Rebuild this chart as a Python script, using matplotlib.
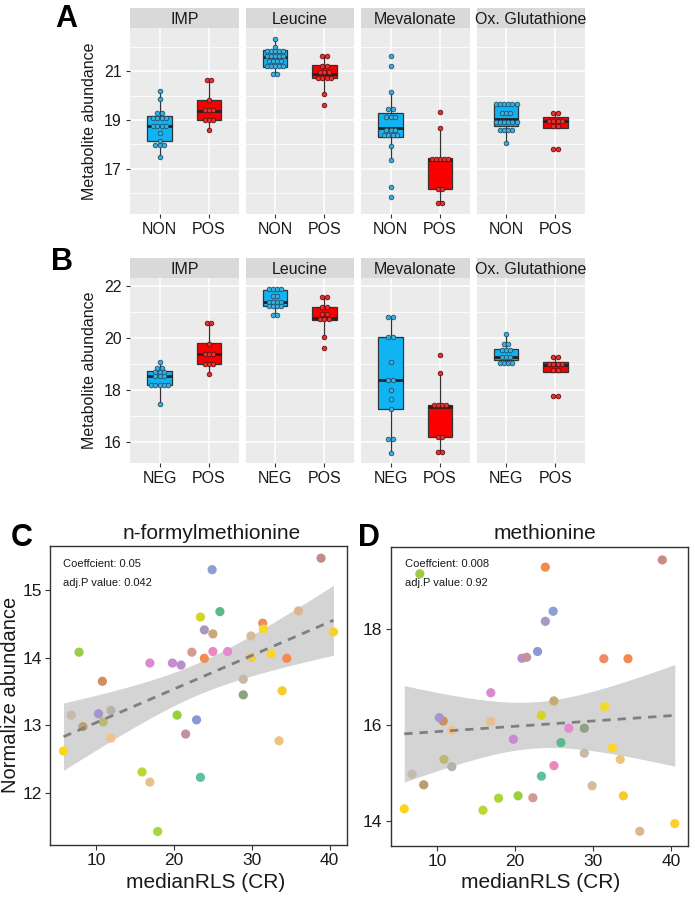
import numpy as np
import matplotlib
matplotlib.use("Agg")
import matplotlib.pyplot as plt

plt.rcParams['font.family'] = ['Liberation Sans', 'DejaVu Sans']

W, H = 695, 900

# ---------------- data: panels A and B ----------------
facets = ["IMP", "Leucine", "Mevalonate", "Ox. Glutathione"]
groups_A = ["NON", "POS"]
groups_B = ["NEG", "POS"]

# box stats per facet: (whislo, q1, med, q3, whishi)
boxA_first = [(17.48, 18.16, 18.77, 19.15, 20.18), (20.90, 21.18, 21.58, 21.86, 22.31),
              (17.37, 18.32, 18.69, 19.27, 20.16), (18.08, 18.77, 19.03, 19.65, 19.65)]
boxA_pos = [(18.59, 19.00, 19.37, 19.82, 20.62), (20.06, 20.70, 20.88, 21.24, 21.62),
            (15.62, 16.17, 17.37, 17.44, 18.66), (18.69, 18.69, 18.97, 19.14, 19.27)]
boxB_first = [(17.45, 18.17, 18.54, 18.73, 19.06), (20.88, 21.23, 21.40, 21.85, 21.90),
              (15.56, 17.27, 18.38, 20.05, 20.82), (19.03, 19.15, 19.26, 19.58, 20.14)]
boxB_pos = [(18.60, 18.99, 19.37, 19.80, 20.59), (20.05, 20.69, 20.78, 21.20, 21.59),
            (15.60, 16.17, 17.33, 17.42, 18.64), (18.68, 18.68, 18.96, 19.09, 19.26)]

dotsA_first = [
    [20.18, 19.86, 19.30, 19.30, 19.07, 19.07, 19.07, 19.07, 18.77, 18.77, 18.77, 18.77,
     18.46, 18.16, 17.98, 17.98, 17.98, 17.48],
    [22.31, 21.99, 21.82, 21.82, 21.82, 21.82, 21.82, 21.60, 21.60, 21.60, 21.60, 21.60,
     21.40, 21.40, 21.40, 21.40, 21.20, 21.20, 21.20, 21.20, 21.20, 20.90, 20.90],
    [21.62, 21.22, 20.16, 19.45, 19.45, 19.11, 19.11, 19.11, 18.59, 18.59, 18.59,
     18.39, 18.39, 18.39, 18.39, 17.95, 17.37, 16.28, 15.87],
    [19.65, 19.65, 19.65, 19.65, 19.65, 19.65, 19.27, 19.27, 19.27, 18.93, 18.93, 18.93,
     18.93, 18.93, 18.93, 18.59, 18.59, 18.59, 18.59, 18.08],
]
dotsA_pos = [
    [20.62, 20.62, 19.80, 19.42, 19.42, 19.42, 19.00, 19.00, 19.00, 18.59],
    [21.62, 21.62, 21.22, 21.22, 20.95, 20.95, 20.95, 20.72, 20.72, 20.72, 20.72, 20.06, 19.61],
    [19.34, 18.66, 17.42, 17.42, 17.42, 17.42, 17.42, 16.17, 16.17, 15.62, 15.62],
    [19.27, 19.27, 18.97, 18.97, 18.97, 18.97, 18.75, 18.75, 17.80, 17.80],
]
dotsB_first = [
    [19.06, 18.86, 18.86, 18.70, 18.70, 18.70, 18.54, 18.54, 18.54, 18.17, 18.17, 18.17,
     18.17, 18.17, 17.45],
    [21.88, 21.88, 21.88, 21.88, 21.62, 21.62, 21.40, 21.40, 21.40, 21.40, 21.23, 21.23,
     21.23, 21.23, 20.88, 20.88],
    [20.82, 20.82, 20.05, 20.05, 19.09, 18.38, 18.38, 18.00, 17.64, 17.27, 16.10, 16.10, 15.56],
    [20.14, 19.76, 19.76, 19.55, 19.55, 19.55, 19.26, 19.26, 19.26, 19.05, 19.05, 19.05, 19.05],
]
dotsB_pos = [
    [20.59, 20.59, 19.76, 19.40, 19.40, 19.40, 18.99, 18.99, 18.99, 18.60],
    [21.59, 21.59, 21.20, 21.20, 20.92, 20.92, 20.72, 20.72, 20.72, 20.05, 19.60],
    [19.35, 18.64, 17.42, 17.42, 17.42, 17.42, 16.17, 16.17, 15.60, 15.60],
    [19.26, 19.26, 19.00, 19.00, 19.00, 19.00, 18.75, 18.75, 17.77, 17.77],
]

# ---------------- data: panels C and D ----------------
strain_x = [38.9, 24.9, 25.9, 23.4, 36.0, 23.9, 25.0, 31.4, 31.5, 40.5, 29.9, 7.8, 22.3, 25.0,
            26.9, 23.9, 29.9, 32.5, 34.5, 16.9, 19.8, 20.9, 10.8, 28.9, 33.9, 28.9, 6.8, 10.3,
            11.9, 10.9, 8.3, 11.9, 5.8, 20.4, 22.9, 21.5, 33.5, 15.9, 16.9, 23.4, 17.9]
fmet_y = [15.47, 15.30, 14.68, 14.60, 14.69, 14.41, 14.35, 14.51, 14.42, 14.38, 14.32, 14.08,
          14.08, 14.09, 14.09, 13.99, 14.00, 14.06, 13.99, 13.92, 13.92, 13.89, 13.65, 13.68,
          13.51, 13.45, 13.15, 13.17, 13.22, 13.05, 12.98, 12.81, 12.62, 13.15, 13.08, 12.87,
          12.77, 12.31, 12.16, 12.23, 11.43]
met_y = [19.44, 18.37, 15.63, 16.20, 13.78, 18.16, 16.50, 17.38, 16.38, 13.94, 14.73, 19.15,
         14.48, 15.15, 15.93, 19.29, np.nan, 15.52, 17.38, 16.67, 15.70, 17.39, 16.08, 15.41,
         14.52, 15.93, 14.97, 16.15, 15.13, 15.28, 14.75, 15.89, 14.25, 14.52, 17.53, 17.41,
         15.28, 14.22, 16.07, 14.93, 14.47]
strain_colors = ["#C98B87", "#8C9FD6", "#5DB88E", "#D4D424", "#D9B88F", "#A898C0", "#C9A877",
                 "#EF8C63", "#F2DA2A", "#FCCF30", "#D6BC98", "#9CCB45", "#D49A94", "#E889C0",
                 "#E48BCD", "#F08C4E", "#F5C94A", "#FAD52A", "#F38A52", "#D98AD0", "#C98AD4",
                 "#B98FD0", "#D28E5A", "#C7B9A6", "#F8CB2E", "#8FA27E", "#C4BAAE", "#A394D2",
                 "#B6B2AC", "#BABA72", "#B8A06E", "#F2C28A", "#F9D61E", "#99CF3F", "#8C98D2",
                 "#C3929A", "#EFC27E", "#BCD634", "#E8C08F", "#5CC1A4", "#A9D63A"]
coef_text_C = ["Coeffcient: 0.05", "adj.P value: 0.042"]
coef_text_D = ["Coeffcient: 0.008", "adj.P value: 0.92"]

# ---------------- drawing ----------------
fig = plt.figure(figsize=(W / 100, H / 100), dpi=100)
fig.patch.set_facecolor("white")


def px_axes(x0, y0, x1, y1):
    return fig.add_axes([x0 / W, 1 - y1 / H, (x1 - x0) / W, (y1 - y0) / H])


def dot_offsets(vals, spacing):
    vals = np.asarray(vals)
    xs = np.zeros(len(vals))
    for v in np.unique(vals):
        idx = np.where(vals == v)[0]
        n = len(idx)
        xs[idx] = (np.arange(n) - (n - 1) / 2) * spacing
    return xs


BLUE, RED = "#10B4F2", "#FA0000"
BLUE_DOT, RED_DOT = ("#3AAEDC", "#1E5470"), ("#E23232", "#6A1010")
facet_left = [130, 245.5, 361, 476.5]
facet_w = 108.5


def box_panel(top, bottom, ylim, major, minor, groups, box_first, box_pos, dots_first, dots_pos):
    for i, name in enumerate(facets):
        x0 = facet_left[i]
        x1 = x0 + facet_w
        sax = px_axes(x0, top - 20, x1, top)
        sax.set_facecolor("#D9D9D9")
        sax.set_xticks([]); sax.set_yticks([])
        for s in sax.spines.values():
            s.set_visible(False)
        sax.text(0.5, 0.45, name, ha="center", va="center", fontsize=11.5, color="#1A1A1A",
                 transform=sax.transAxes)
        ax = px_axes(x0, top, x1, bottom)
        ax.set_facecolor("#EBEBEB")
        for s in ax.spines.values():
            s.set_visible(False)
        for pos, st, dots, fc, dcol in [(1, box_first[i], dots_first[i], BLUE, BLUE_DOT),
                                        (2, box_pos[i], dots_pos[i], RED, RED_DOT)]:
            wl, q1, med, q3, wh = st
            ax.bxp([dict(whislo=wl, q1=q1, med=med, q3=q3, whishi=wh, fliers=[])],
                   positions=[pos], widths=0.5, patch_artist=True, showcaps=False,
                   showfliers=False, manage_ticks=False,
                   boxprops=dict(facecolor=fc, edgecolor="#333333", lw=0.9),
                   medianprops=dict(color="#222222", lw=2.0),
                   whiskerprops=dict(color="#333333", lw=0.9))
            offs = dot_offsets(dots, 0.085)
            ax.scatter(pos + offs, dots, s=11, facecolor=dcol[0], edgecolor=dcol[1],
                       lw=0.6, zorder=4)
        ax.set_xlim(0.4, 2.6)
        ax.set_ylim(*ylim)
        ax.set_yticks(major)
        ax.set_yticks(minor, minor=True)
        ax.set_xticks([1, 2])
        ax.set_xticklabels(groups, fontsize=11.5, color="#1A1A1A")
        ax.grid(which="major", color="white", lw=1.1)
        ax.grid(which="minor", axis="y", color="white", lw=0.55)
        ax.set_axisbelow(True)
        ax.tick_params(which="major", length=3, width=0.8, color="#333333", pad=3)
        ax.tick_params(which="minor", length=0)
        if i == 0:
            ax.set_yticklabels([str(v) for v in major], fontsize=11.5, color="#1A1A1A")
        else:
            ax.tick_params(axis="y", which="both", length=0, labelleft=False)


box_panel(28, 214, (15.16, 22.76), [17, 19, 21], [16, 18, 20, 22], groups_A,
          boxA_first, boxA_pos, dotsA_first, dotsA_pos)
box_panel(278, 463, (15.18, 22.31), [16, 18, 20, 22], [17, 19, 21], groups_B,
          boxB_first, boxB_pos, dotsB_first, dotsB_pos)

fig.text(90 / W, 1 - 121 / H, "Metabolite abundance", rotation=90, ha="center", va="center",
         fontsize=11.5, color="#1A1A1A")
fig.text(90 / W, 1 - 370 / H, "Metabolite abundance", rotation=90, ha="center", va="center",
         fontsize=11.5, color="#1A1A1A")


def scatter_panel(box, yvals, ylim, yticks, title, title_x, xlabel_x, coef_text, text_x):
    x0, y0, x1, y1 = box
    ax = px_axes(x0, y0, x1, y1)
    x = np.asarray(strain_x, dtype=float)
    y = np.asarray(yvals, dtype=float)
    cols = np.asarray(strain_colors)
    m = ~np.isnan(y)
    x, y, cols = x[m], y[m], cols[m]
    n = len(x)
    b, a = np.polyfit(x, y, 1)
    xs = np.linspace(x.min(), x.max(), 100)
    yhat = a + b * xs
    resid = y - (a + b * x)
    s = np.sqrt(np.sum(resid ** 2) / (n - 2))
    sxx = np.sum((x - x.mean()) ** 2)
    se = s * np.sqrt(1 / n + (xs - x.mean()) ** 2 / sxx)
    t = 2.02
    ax.fill_between(xs, yhat - t * se, yhat + t * se, color="#D4D4D4", lw=0, zorder=1)
    ax.scatter(x, y, s=44, c=cols, lw=0, zorder=2)
    ax.plot(xs, yhat, ls=(0, (3, 2.5)), color="#7F7F7F", lw=2, zorder=3)
    xr = x.max() - x.min()
    ax.set_xlim(x.min() - 0.05 * xr, x.max() + 0.05 * xr)
    ax.set_ylim(*ylim)
    ax.set_xticks([10, 20, 30, 40])
    ax.set_yticks(yticks)
    ax.tick_params(labelsize=12.5, length=3.5, width=0.8, color="#333333",
                   labelcolor="#1A1A1A", pad=2.5)
    for sp in ax.spines.values():
        sp.set_color("#333333")
        sp.set_linewidth(1.0)
    fig.text(title_x / W, 1 - 539 / H, title, ha="center", va="baseline", fontsize=15,
             color="#1A1A1A")
    fig.text(xlabel_x / W, 1 - 882 / H, "medianRLS (CR)", ha="center", va="center",
             fontsize=15, color="#1A1A1A")
    fig.text(text_x / W, 1 - 564 / H, coef_text[0], ha="left", va="center", fontsize=8,
             color="#1A1A1A")
    fig.text(text_x / W, 1 - 583 / H, coef_text[1], ha="left", va="center", fontsize=8,
             color="#1A1A1A")
    return ax


scatter_panel((50, 546, 347, 845), fmet_y, (11.23, 15.65), [12, 13, 14, 15],
              "n-formylmethionine", 212, 206, coef_text_C, 63)
scatter_panel((390.7, 547, 688.3, 845.7), met_y, (13.48, 19.71), [14, 16, 18],
              "methionine", 545, 541, coef_text_D, 405)

fig.text(11 / W, 1 - 695 / H, "Normalize abundance", rotation=90, ha="center", va="center",
         fontsize=14.5, color="#1A1A1A")

for lab, (px, py) in {"A": (66, 19), "B": (62, 262), "C": (22, 538), "D": (369, 538)}.items():
    fig.text(px / W, 1 - py / H, lab, ha="center", va="center", fontsize=22,
             fontweight="bold", color="black")

fig.savefig("out.png", dpi=100)
